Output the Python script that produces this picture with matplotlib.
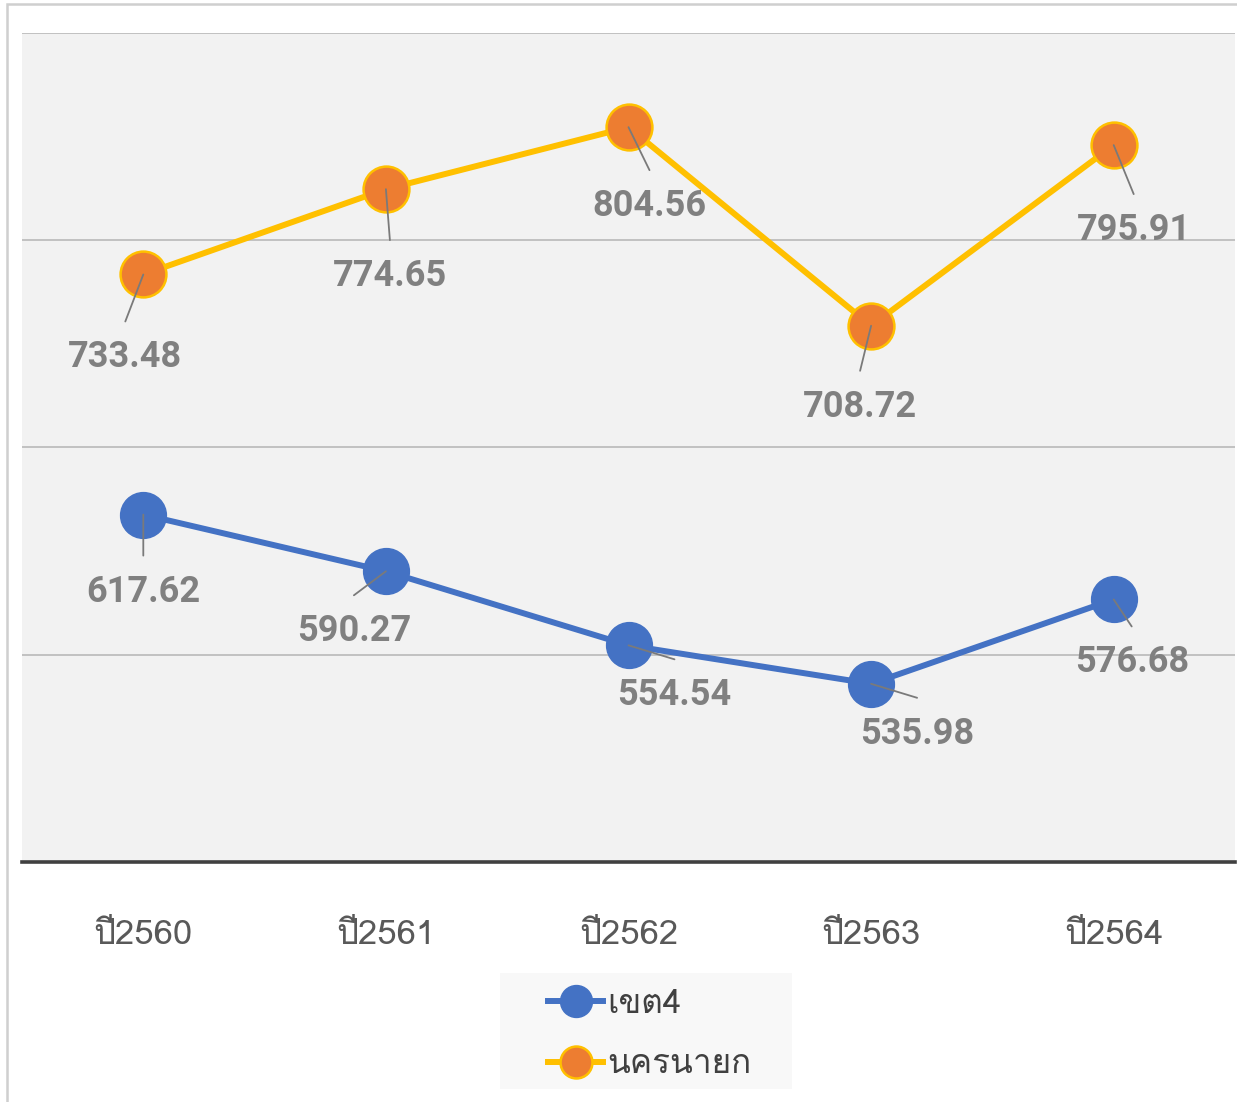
import matplotlib
matplotlib.use("Agg")
import matplotlib.pyplot as plt
from matplotlib import font_manager
from matplotlib.ft2font import FT2Font
from matplotlib.lines import Line2D
import matplotlib.patches as mpatches

# ---- data ----
categories = ["ปี2560", "ปี2561", "ปี2562", "ปี2563", "ปี2564"]
series_names = ["เขต4", "นครนายก"]
khet4 = [617.62, 590.27, 554.54, 535.98, 576.68]
nakhonnayok = [733.48, 774.65, 804.56, 708.72, 795.91]

# ---- find a font with Thai glyphs ----
thai_fonts = []
for f in font_manager.fontManager.ttflist:
    try:
        cm = FT2Font(f.fname).get_charmap()
        if ord("ป") in cm and ord("ข") in cm:
            if f.name not in thai_fonts:
                thai_fonts.append(f.name)
    except Exception:
        pass
family = thai_fonts[:1] + ["DejaVu Sans"]

W, H = 1237, 1102
fig = plt.figure(figsize=(W / 100, H / 100), dpi=100)
fig.patch.set_facecolor("white")

# outer border (left & top)
fig.add_artist(mpatches.Rectangle((6.5 / W, -0.1), 1.2, 1 - 3.5 / H + 0.1,
                                  transform=fig.transFigure, fill=False,
                                  edgecolor="#cfcfcf", lw=1.8))

ax = fig.add_axes([22 / W, 1 - 862 / H, (1235 - 22) / W, (862 - 33) / H])
ax.set_facecolor("#f2f2f2")
ax.set_xlim(-0.5, 4.5)
ax.set_ylim(450, 850)
ax.set_yticks([550, 650, 750, 850])
ax.yaxis.grid(True, color="#b4b4b4", lw=1.1)
ax.set_axisbelow(True)
ax.tick_params(axis="y", left=False, labelleft=False)
for s in ["top", "right", "left"]:
    ax.spines[s].set_visible(False)
ax.spines["bottom"].set_color("#404040")
ax.spines["bottom"].set_linewidth(2.6)

x = list(range(len(categories)))
ax.plot(x, khet4, color="#4472C4", lw=4.3, marker="o", ms=33,
        mfc="#4472C4", mec="#4472C4", mew=1, zorder=3)
ax.plot(x, nakhonnayok, color="#FFC000", lw=4.3, marker="o", ms=33,
        mfc="#ED7D31", mec="#FFC000", mew=1.8, zorder=3)

ax.set_xticks(x)
ax.set_xticklabels(categories, family=family, fontsize=25, color="#595959")
ax.tick_params(axis="x", length=0, pad=42)

# data labels (offsets in pixels: label centre relative to point)
off_k = [(0, -77), (-32, -60), (46, -50), (46, -50), (18, -63)]
off_n = [(-18, -83), (4, -87), (21, -79), (-11, -81), (20, -85)]
for vals, offs in [(khet4, off_k), (nakhonnayok, off_n)]:
    for xi, v, (dx, dy) in zip(x, vals, offs):
        ax.annotate(f"{v:.2f}", (xi, v), xytext=(dx, dy), textcoords="offset pixels",
                    ha="center", va="center", fontsize=26, fontweight="bold",
                    family="Roboto", color="#808080", zorder=5)
        ax.annotate("", (xi, v), xytext=(dx, dy + 36), textcoords="offset pixels",
                    arrowprops=dict(arrowstyle="-", color="#7a7a7a", lw=1.3,
                                    shrinkA=0, shrinkB=0), zorder=5)

# legend background box
fig.add_artist(mpatches.Rectangle((500 / W, 1 - 1089 / H), 292 / W, 116 / H,
                                  transform=fig.transFigure, facecolor="#f8f8f8",
                                  edgecolor="none"))
handles = [
    Line2D([], [], color="#4472C4", lw=4.3, marker="o", ms=23, mfc="#4472C4", mec="#4472C4"),
    Line2D([], [], color="#FFC000", lw=4.3, marker="o", ms=23, mfc="#ED7D31", mec="#FFC000", mew=1.8),
]
leg = fig.legend(handles, series_names, loc="upper left",
                 bbox_to_anchor=(548 / W, 1 - 989 / H),
                 prop=dict(family=family, size=24), labelcolor="#404040",
                 frameon=False, handlelength=1.65, handletextpad=0.12,
                 labelspacing=0.88, borderpad=0, borderaxespad=0)

fig.savefig("out.png", dpi=100)
